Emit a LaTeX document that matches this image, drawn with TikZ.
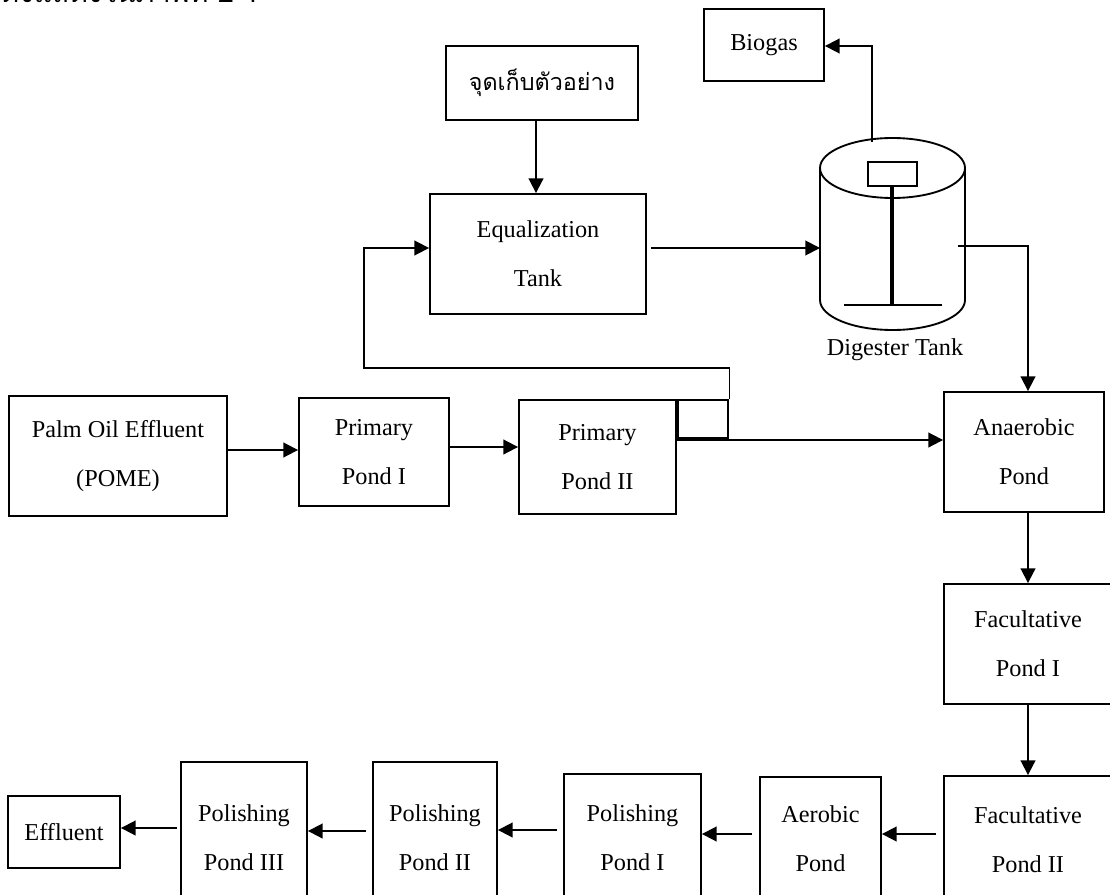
\documentclass[tikz,border=0pt]{standalone}
\usepackage{fontspec}
\setmainfont{Liberation Serif}
\newfontfamily\thaifont[Script=Thai]{Loma}
\usetikzlibrary{arrows.meta}

% box centred at (x,y) with width and height given in drawing units
\newcommand\boxat[6]{\node[box, minimum width=#4*0.75pt, minimum height=#5*0.75pt] (#1) at (#2,#3) {#6};}

\begin{document}
\begin{tikzpicture}[x=0.75pt,y=-0.75pt,
  line width=1.4pt,
  box/.style={draw, line width=1.4pt, align=center, inner sep=0pt,
              font=\fontsize{18.2}{36.6}\selectfont},
  flow/.style={-{Triangle[length=11pt,width=11pt]}, line width=1.4pt},
  pipe/.style={line width=1.4pt},
  lbl/.style={font=\fontsize{18.2}{22}\selectfont, inner sep=0pt}]
\useasboundingbox (0,0) rectangle (1110,895);
\begin{scope}
\clip (0,0) rectangle (1110,895);

% running text line above the figure
\node[anchor=base west, inner sep=0pt, font=\thaifont\fontsize{21.5}{24}\selectfont] (caption) at (0,3) {ดังแสดงในภาพที่ 2-1};

% process units
\boxat{biogas}{764}{45}{120}{72}{Biogas}
\node[box, font=\thaifont\fontsize{17.5}{20}\selectfont, minimum width=192*0.75pt, minimum height=74*0.75pt] (sample) at (542,83) {จุดเก็บตัวอย่าง};
\boxat{eq}{538}{254}{216}{120}{Equalization\\Tank}
\boxat{pome}{118}{456}{218}{120}{Palm Oil Effluent\\(POME)}
\boxat{ppone}{374}{452}{150}{108}{Primary\\Pond I}
\boxat{pptwo}{597.5}{457}{157}{114}{Primary\\Pond II}
\node[draw, line width=2.2pt, inner sep=0pt, minimum width=50*0.75pt, minimum height=38*0.75pt] (sb) at (703,419) {};
\boxat{anaer}{1024}{452}{160}{120}{Anaerobic\\Pond}
\boxat{facone}{1028}{644}{168}{120}{Facultative\\Pond I}
\boxat{factwo}{1028}{840}{168}{128}{Facultative\\Pond II}
\boxat{aer}{820.5}{839}{121}{124}{Aerobic\\Pond}
\boxat{polone}{632.5}{838}{137}{128}{Polishing\\Pond I}
\boxat{poltwo}{435}{838}{124}{152}{Polishing\\Pond II}
\boxat{polthree}{244}{838}{126}{152}{Polishing\\Pond III}
\boxat{eff}{64}{832}{112}{72}{Effluent}

% digester tank: cylinder with mixer
\coordinate (digtop) at (892.5,168);
\coordinate (digin) at (820,248);
\coordinate (digout) at (958,246);
\coordinate (gasout) at (872,142);
\draw[pipe] (digtop) ellipse [x radius=72.5, y radius=30];
\draw[pipe] (820,168) -- (820,300) arc [start angle=180, end angle=0, x radius=72.5, y radius=30] -- (965,168);
\draw[pipe] (868,162) rectangle (917,186);
\draw[line width=3.5pt] (892,186) -- (892,305);
\draw[pipe] (844,305) -- (942,305);
\node[lbl] (diglbl) at (895,350) {Digester Tank};

% connectors
\draw[flow] (sample.south -| 536,0) -- (eq.north -| 536,0);
\draw[flow, shorten <=3pt] (eq.east |- digin) -- (digin);
\draw[flow] (gasout) -- (gasout |- 0,46) -- (biogas.east |- 0,46);
\draw[flow] (digout) -- (1028,246) -- (anaer.north -| 1028,0);
\draw[flow] (pome.east |- 0,450) -- (ppone.west |- 0,450);
\draw[flow] (ppone.east |- 0,447) -- (pptwo.west |- 0,447);
\draw[flow] (sb.north east) -- (sb.north east |- 0,368) -- (364,368) -- (364,248) -- (eq.west |- 0,248);
\draw[flow] (sb.south west |- 0,440) -- (anaer.west |- 0,440);
\draw[flow] (anaer.south -| 1028,0) -- (facone.north -| 1028,0);
\draw[flow] (facone.south -| 1028,0) -- (factwo.north -| 1028,0);
\draw[flow, shorten <=5pt] (factwo.west |- 0,834) -- (aer.east |- 0,834);
\draw[flow, shorten <=5pt] (aer.west |- 0,834) -- (polone.east |- 0,834);
\draw[flow, shorten <=4.5pt] (polone.west |- 0,830) -- (poltwo.east |- 0,830);
\draw[flow, shorten <=4.5pt] (poltwo.west |- 0,831) -- (polthree.east |- 0,831);
\draw[flow, shorten <=2.5pt] (polthree.west |- 0,828) -- (eff.east |- 0,828);
\end{scope}
\end{tikzpicture}
\end{document}
